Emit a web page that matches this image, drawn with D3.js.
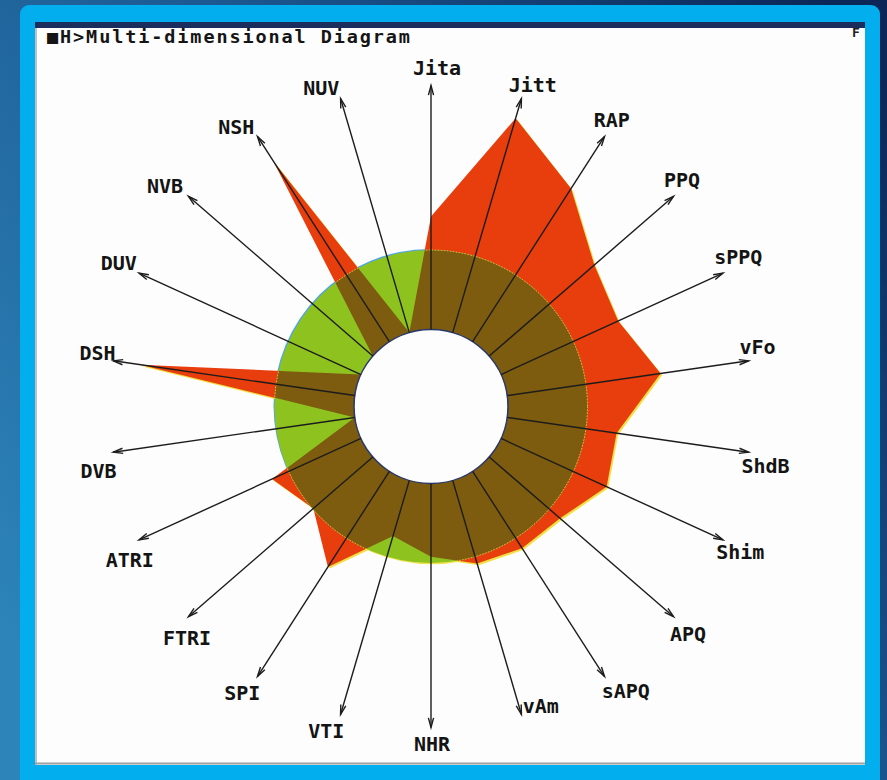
<!DOCTYPE html>
<html>
<head>
<meta charset="utf-8">
<script src="https://cdn.jsdelivr.net/npm/d3@7"></script>
<style>
  html, body { margin: 0; padding: 0; background: #1a4f86; }
  svg { display: block; }
</style>
</head>
<body>
<script>
// ---------- data ----------
const parameters = ["Jita","Jitt","RAP","PPQ","sPPQ","vFo","ShdB","Shim","APQ","sAPQ","vAm","NHR",
                    "VTI","SPI","FTRI","ATRI","DVB","DSH","DUV","NVB","NSH","NUV"];
// patient values, normalised so that 1 = normative threshold (green circle), 0 = inner circle
const patientValues = [1.42, 2.81, 2.29, 1.75, 1.62, 1.95, 1.39, 1.46, 1.18, 1.15, 1.09, 0.92,
                       0.73, 1.43, 0.99, 1.23, 0.0, 2.73, 0.0, 0.0, 2.70, 0.0];
const thresholdValue = 1;
const titleText = "\u25A0H>Multi-dimensional Diagram";

// ---------- layout ----------
const W = 887, H = 780;
const cx = 431, cy = 406.5;
const innerR = 77, thresholdR = 156.5, arrowR = 321, labelR = 340;
// small label nudges (layout only)
const labelNudge = [[6,1.5],[6,5],[-3,0],[-6,-4],[-2,-8],[-10,-11],[-2,11],[0,4],[0,5],[11,-2],[14,-27],[1,-3],
                    [-9,-2],[-5,0],[13,9],[8,12],[4,16],[3,-5],[-3,-2],[-9,2],[-11,7],[-14,8]];

const svg = d3.select("body").append("svg").attr("width", W).attr("height", H);
const defs = svg.append("defs");

const bg = defs.append("linearGradient").attr("id","bg")
  .attr("x1","0").attr("y1","0.8").attr("x2","1").attr("y2","0.1");
bg.append("stop").attr("offset","0").attr("stop-color","#2c84b9");
bg.append("stop").attr("offset","0.55").attr("stop-color","#1c5790");
bg.append("stop").attr("offset","1").attr("stop-color","#0c2757");

svg.append("rect").attr("width",W).attr("height",H).attr("fill","url(#bg)");
// light-blue frame
svg.append("rect").attr("x",20).attr("y",5).attr("width",860).attr("height",800)
  .attr("rx",9).attr("fill","#02aeee");
// white picture
svg.append("rect").attr("x",35).attr("y",22).attr("width",830).attr("height",743).attr("fill","#fdfdfd");
svg.append("rect").attr("x",35).attr("y",22).attr("width",830).attr("height",6).attr("fill","#1b2d5c");
svg.append("line").attr("x1",36).attr("x2",36).attr("y1",28).attr("y2",765).attr("stroke","#9a9a9a").attr("stroke-width",1.2);
svg.append("line").attr("x1",35).attr("x2",865).attr("y1",763.5).attr("y2",763.5).attr("stroke","#a0a0a0").attr("stroke-width",2);

// title
svg.append("text").attr("x",47).attr("y",42.5)
  .attr("font-family","DejaVu Sans Mono, monospace").attr("font-weight","bold")
  .attr("font-size",18.5).attr("fill","#151515")
  .attr("textLength",363).attr("lengthAdjust","spacing")
  .text(titleText);
svg.append("text").attr("x",852).attr("y",37)
  .attr("font-family","DejaVu Sans Mono, monospace").attr("font-weight","bold")
  .attr("font-size",13).attr("fill","#222").text("F");

// ---------- scales ----------
const n = parameters.length;
const angle = d3.scaleLinear().domain([0, n]).range([0, 2*Math.PI]);
const rScale = d3.scaleLinear().domain([0, thresholdValue]).range([innerR, thresholdR]);

const radial = d3.lineRadial()
  .angle((d,i) => angle(i))
  .radius(d => rScale(Math.max(0, d)))
  .curve(d3.curveLinearClosed);
const polyPath = radial(patientValues);

defs.append("clipPath").attr("id","thrClip")
  .append("circle").attr("r",rScale(thresholdValue));
defs.append("clipPath").attr("id","polyClip")
  .append("path").attr("d",polyPath);

const layer = () => svg.append("g").attr("transform", `translate(${cx},${cy})`);

// fringes of the threshold disc
const gBase = layer();
gBase.append("circle").attr("cx",1.2).attr("cy",1.2).attr("r",rScale(thresholdValue)).attr("fill","#efe34e");
gBase.append("circle").attr("cx",-1).attr("cy",-1).attr("r",rScale(thresholdValue)).attr("fill","#4fa6e2");
// patient polygon (with print misregistration fringe)
gBase.append("path").attr("d",polyPath).attr("transform","translate(1.6,1.6)").attr("fill","#f2df45");
gBase.append("path").attr("d",polyPath).attr("fill","#e83d0c");
// threshold disc
gBase.append("circle").attr("r",rScale(thresholdValue)).attr("fill","#8ec31f");
// overlap of polygon and disc
layer().append("g").attr("clip-path","url(#thrClip)")
  .append("path").attr("d",polyPath).attr("fill","#7d5c10");
// faint yellow edge of the disc inside red
layer().append("g").attr("clip-path","url(#polyClip)")
  .append("circle").attr("r",rScale(thresholdValue))
  .attr("fill","none").attr("stroke","#d9d75a").attr("stroke-width",0.9).attr("stroke-dasharray","1.5,1.5");

const g = layer();
// inner circle
g.append("circle").attr("r",rScale(0)).attr("fill","#fdfdfd")
  .attr("stroke","#2b3a6c").attr("stroke-width",1.6);

// axes with open arrowheads
const axes = g.selectAll("g.axis").data(parameters).join("g").attr("class","axis");
axes.append("line")
  .attr("x1",(d,i)=> rScale(0)*Math.sin(angle(i)))
  .attr("y1",(d,i)=> -rScale(0)*Math.cos(angle(i)))
  .attr("x2",(d,i)=> arrowR*Math.sin(angle(i)))
  .attr("y2",(d,i)=> -arrowR*Math.cos(angle(i)))
  .attr("stroke","#1c1c1c").attr("stroke-width",1.4);
const headLen = 10, headAng = 15*Math.PI/180;
axes.append("path")
  .attr("d",(d,i)=>{
    const a = angle(i);
    const tx = arrowR*Math.sin(a), ty = -arrowR*Math.cos(a);
    const b1 = a + Math.PI - headAng, b2 = a + Math.PI + headAng;
    return `M${tx+headLen*Math.sin(b1)},${ty-headLen*Math.cos(b1)}L${tx},${ty}L${tx+headLen*Math.sin(b2)},${ty-headLen*Math.cos(b2)}`;
  })
  .attr("fill","none").attr("stroke","#1c1c1c").attr("stroke-width",1.4);

// labels
axes.append("text")
  .attr("x",(d,i)=> labelR*Math.sin(angle(i)) + labelNudge[i][0])
  .attr("y",(d,i)=> -labelR*Math.cos(angle(i)) + labelNudge[i][1])
  .attr("text-anchor","middle").attr("dominant-baseline","central")
  .attr("font-family","DejaVu Sans Mono, monospace").attr("font-weight","bold")
  .attr("font-size",20).attr("fill","#141414")
  .text(d=>d);
</script>
</body>
</html>
